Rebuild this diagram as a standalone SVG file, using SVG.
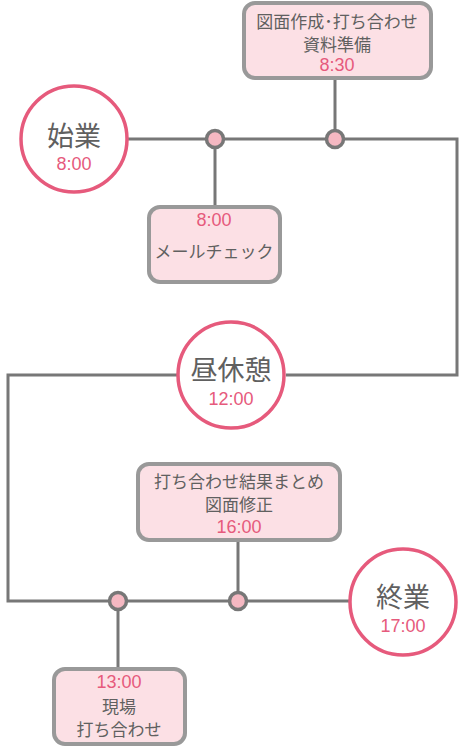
<svg xmlns="http://www.w3.org/2000/svg" width="463" height="747" viewBox="0 0 463 747">
<style>
text{font-family:"Noto Sans CJK JP","Liberation Sans",sans-serif;text-anchor:middle;dominant-baseline:central}
.t{fill:#606060;font-size:17px}
.big{fill:#606060;font-size:27px}
.time{fill:#e65a7c;font-family:"Liberation Sans","Noto Sans CJK JP",sans-serif;font-size:18px}
.circ{fill:#fff;stroke:#e65a7c;stroke-width:3.5}
.box{fill:#fce0e5;stroke:#999;stroke-width:4}
.line{fill:none;stroke:#777;stroke-width:3}
.dot{fill:#f5b8c2;stroke:#777;stroke-width:3.5}
</style>
<rect width="463" height="747" fill="#fff"/>
<g id="connectors">
<polyline class="line" points="128,139 457,139 457,375 286,375"/>
<polyline class="line" points="177,375 8,375 8,601 349,601"/>
<line class="line" x1="215" y1="139" x2="215" y2="207"/>
<line class="line" x1="335" y1="79" x2="335" y2="139"/>
<line class="line" x1="238" y1="541" x2="238" y2="601"/>
<line class="line" x1="118" y1="601" x2="118" y2="668"/>
<circle class="dot" cx="215" cy="139" r="8.5"/>
<circle class="dot" cx="335" cy="139" r="8.5"/>
<circle class="dot" cx="118" cy="601" r="8.5"/>
<circle class="dot" cx="238" cy="601" r="8.5"/>
</g>
<g id="start">
<circle class="circ" cx="74" cy="139" r="53"/>
<text class="big" x="74" y="134">始業</text>
<text class="time" x="74" y="164">8:00</text>
</g>
<g id="task830">
<rect class="box" x="244" y="3" width="187" height="75" rx="11"/>
<text class="t" x="337" y="20">図面作成･打ち合わせ</text>
<text class="t" x="337" y="43">資料準備</text>
<text class="time" x="337" y="65">8:30</text>
</g>
<g id="task800">
<rect class="box" x="149" y="207" width="131" height="75" rx="11"/>
<text class="time" x="214" y="220">8:00</text>
<text class="t" x="214" y="250">メールチェック</text>
</g>
<g id="lunch">
<circle class="circ" cx="231" cy="375" r="53"/>
<text class="big" x="231" y="368">昼休憩</text>
<text class="time" x="231" y="399">12:00</text>
</g>
<g id="task1600">
<rect class="box" x="138" y="464" width="202" height="76" rx="11"/>
<text class="t" x="239" y="480">打ち合わせ結果まとめ</text>
<text class="t" x="239" y="503">図面修正</text>
<text class="time" x="239" y="527">16:00</text>
</g>
<g id="end">
<circle class="circ" cx="403" cy="602" r="53"/>
<text class="big" x="403" y="595">終業</text>
<text class="time" x="403" y="626">17:00</text>
</g>
<g id="task1300">
<rect class="box" x="54" y="669" width="131" height="75" rx="11"/>
<text class="time" x="119" y="682">13:00</text>
<text class="t" x="119" y="705">現場</text>
<text class="t" x="119" y="728">打ち合わせ</text>
</g>
</svg>
